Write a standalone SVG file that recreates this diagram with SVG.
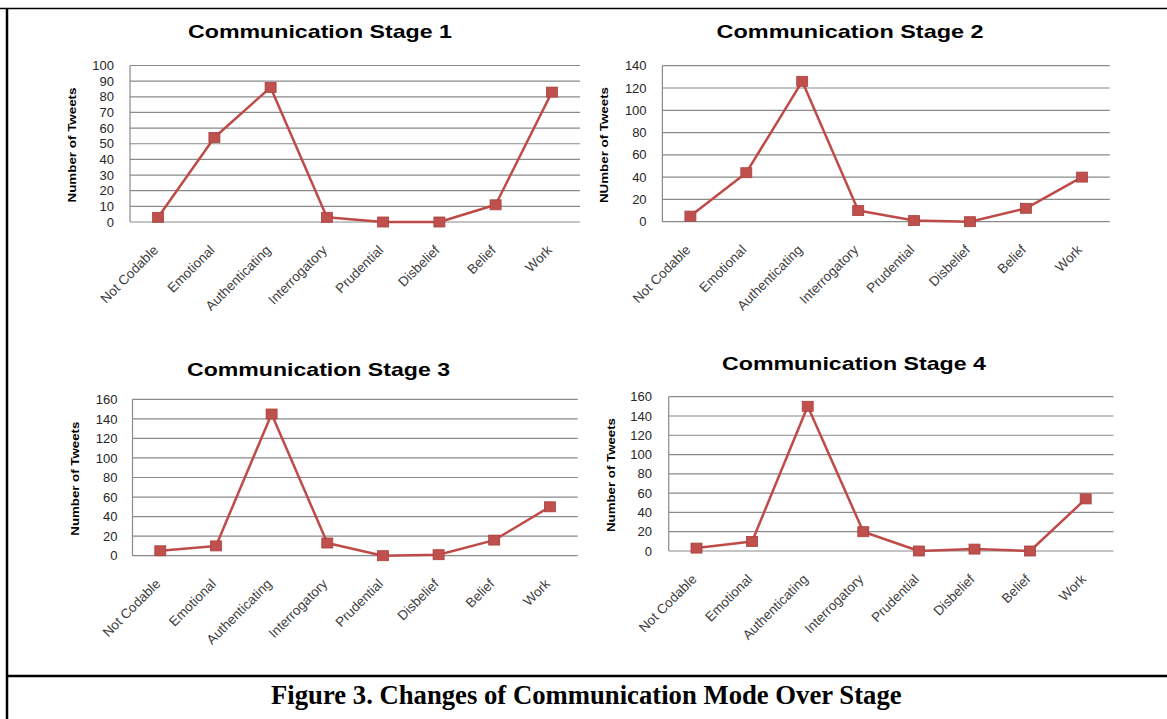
<svg xmlns="http://www.w3.org/2000/svg" width="1167" height="719" viewBox="0 0 1167 719">
<style>
.grid{stroke:#8a8a8a;stroke-width:1.2;fill:none}
.ttl{font-family:"Liberation Sans",Arial,sans-serif;font-weight:bold;font-size:18.5px;fill:#000}
.tick{font-family:"Liberation Sans",Arial,sans-serif;font-size:13px;fill:#262626;text-anchor:end}
.cat{font-family:"Liberation Sans",Arial,sans-serif;font-size:13.5px;fill:#404040;text-anchor:end}
.ytl{font-family:"Liberation Sans",Arial,sans-serif;font-weight:bold;font-size:11.5px;fill:#000;text-anchor:middle}
.ser{stroke:#be4b48;stroke-width:2.5;fill:none;stroke-linejoin:round}
.mk{fill:#c0504d;stroke:#a8403d;stroke-width:0.8}
.frame{stroke:#000;fill:none}
.cap{font-family:"Liberation Serif","Times New Roman",serif;font-weight:bold;font-size:26.7px;fill:#000}
</style>
<rect width="1167" height="719" fill="#fff"/>
<g id="frame">
<line class="frame" x1="0" y1="8.5" x2="1167" y2="8.5" stroke-width="1.6"/>
<line class="frame" x1="7" y1="8" x2="7" y2="719" stroke-width="2.5"/>
<line class="frame" x1="7" y1="676" x2="1167" y2="676" stroke-width="2.5"/>
</g>

<g id="chart1">
<text class="ttl" x="188" y="38" textLength="264" lengthAdjust="spacingAndGlyphs">Communication Stage 1</text>
<g>
<path class="grid" d="M130 222H580M130 206.35H580M130 190.7H580M130 175.05H580M130 159.4H580M130 143.75H580M130 128.1H580M130 112.45H580M130 96.8H580M130 81.15H580M130 65.5H580M130 65.5V222"/>
</g>
<g>
<text class="tick" x="114" y="226.6">0</text>
<text class="tick" x="114" y="211">10</text>
<text class="tick" x="114" y="195.3">20</text>
<text class="tick" x="114" y="179.6">30</text>
<text class="tick" x="114" y="164">40</text>
<text class="tick" x="114" y="148.3">50</text>
<text class="tick" x="114" y="132.7">60</text>
<text class="tick" x="114" y="117">70</text>
<text class="tick" x="114" y="101.4">80</text>
<text class="tick" x="114" y="85.7">90</text>
<text class="tick" x="114" y="70.1">100</text>
</g>
<text class="ytl" transform="translate(76,145) rotate(-90)" textLength="115" lengthAdjust="spacingAndGlyphs">Number of Tweets</text>
<g>
<text class="cat" transform="translate(159.1,251) rotate(-45)">Not Codable</text>
<text class="cat" transform="translate(215.4,251) rotate(-45)">Emotional</text>
<text class="cat" transform="translate(271.6,251) rotate(-45)">Authenticating</text>
<text class="cat" transform="translate(327.9,251) rotate(-45)">Interrogatory</text>
<text class="cat" transform="translate(384.1,251) rotate(-45)">Prudential</text>
<text class="cat" transform="translate(440.4,251) rotate(-45)">Disbelief</text>
<text class="cat" transform="translate(496.6,251) rotate(-45)">Belief</text>
<text class="cat" transform="translate(552.9,251) rotate(-45)">Work</text>
</g>
<g class="connectors">
<polyline class="ser" points="158.1,217.3 214.4,137.5 270.6,87.4 326.9,217.3 383.1,222 439.4,222 495.6,204.8 551.9,92.1"/>
</g>
<g>
<rect class="mk" x="152.6" y="212.3" width="11" height="10"/>
<rect class="mk" x="208.9" y="132.5" width="11" height="10"/>
<rect class="mk" x="265.1" y="82.4" width="11" height="10"/>
<rect class="mk" x="321.4" y="212.3" width="11" height="10"/>
<rect class="mk" x="377.6" y="217" width="11" height="10"/>
<rect class="mk" x="433.9" y="217" width="11" height="10"/>
<rect class="mk" x="490.1" y="199.8" width="11" height="10"/>
<rect class="mk" x="546.4" y="87.1" width="11" height="10"/>
</g>
</g>

<g id="chart2">
<text class="ttl" x="716.6" y="38" textLength="267" lengthAdjust="spacingAndGlyphs">Communication Stage 2</text>
<path class="grid" d="M662.4 221.7H1109.8M662.4 199.4H1109.8M662.4 177.1H1109.8M662.4 154.8H1109.8M662.4 132.6H1109.8M662.4 110.3H1109.8M662.4 88H1109.8M662.4 65.7H1109.8M662.4 65.7V221.7"/>
<g>
<text class="tick" x="646.6" y="226.3">0</text>
<text class="tick" x="646.6" y="204">20</text>
<text class="tick" x="646.6" y="181.7">40</text>
<text class="tick" x="646.6" y="159.4">60</text>
<text class="tick" x="646.6" y="137.2">80</text>
<text class="tick" x="646.6" y="114.9">100</text>
<text class="tick" x="646.6" y="92.6">120</text>
<text class="tick" x="646.6" y="70.3">140</text>
</g>
<text class="ytl" transform="translate(607.7,145) rotate(-90)" textLength="116" lengthAdjust="spacingAndGlyphs">NUmber of Tweets</text>
<g>
<text class="cat" transform="translate(691.4,250.7) rotate(-45)">Not Codable</text>
<text class="cat" transform="translate(747.3,250.7) rotate(-45)">Emotional</text>
<text class="cat" transform="translate(803.2,250.7) rotate(-45)">Authenticating</text>
<text class="cat" transform="translate(859.2,250.7) rotate(-45)">Interrogatory</text>
<text class="cat" transform="translate(915.1,250.7) rotate(-45)">Prudential</text>
<text class="cat" transform="translate(971,250.7) rotate(-45)">Disbelief</text>
<text class="cat" transform="translate(1026.9,250.7) rotate(-45)">Belief</text>
<text class="cat" transform="translate(1082.9,250.7) rotate(-45)">Work</text>
</g>
<g class="connectors">
<polyline class="ser" points="690.4,216.1 746.3,172.7 802.2,81.3 858.2,210.6 914.1,220.6 970,221.7 1025.9,208.3 1081.9,177.1"/>
</g>
<g>
<rect class="mk" x="684.9" y="211.1" width="11" height="10"/>
<rect class="mk" x="740.8" y="167.7" width="11" height="10"/>
<rect class="mk" x="796.7" y="76.3" width="11" height="10"/>
<rect class="mk" x="852.7" y="205.6" width="11" height="10"/>
<rect class="mk" x="908.6" y="215.6" width="11" height="10"/>
<rect class="mk" x="964.5" y="216.7" width="11" height="10"/>
<rect class="mk" x="1020.4" y="203.3" width="11" height="10"/>
<rect class="mk" x="1076.4" y="172.1" width="11" height="10"/>
</g>
</g>

<g id="chart3">
<text class="ttl" x="187" y="376" textLength="263" lengthAdjust="spacingAndGlyphs">Communication Stage 3</text>
<path class="grid" d="M132.5 555.7H577.7M132.5 536.15H577.7M132.5 516.6H577.7M132.5 497.05H577.7M132.5 477.5H577.7M132.5 457.95H577.7M132.5 438.4H577.7M132.5 418.85H577.7M132.5 399.3H577.7M132.5 399.3V555.7"/>
<g>
<text class="tick" x="117.4" y="560.3">0</text>
<text class="tick" x="117.4" y="540.8">20</text>
<text class="tick" x="117.4" y="521.2">40</text>
<text class="tick" x="117.4" y="501.7">60</text>
<text class="tick" x="117.4" y="482.1">80</text>
<text class="tick" x="117.4" y="462.6">100</text>
<text class="tick" x="117.4" y="443">120</text>
<text class="tick" x="117.4" y="423.5">140</text>
<text class="tick" x="117.4" y="403.9">160</text>
</g>
<text class="ytl" transform="translate(78.6,478.7) rotate(-90)" textLength="114" lengthAdjust="spacingAndGlyphs">Number of Tweets</text>
<g>
<text class="cat" transform="translate(161.3,584.7) rotate(-45)">Not Codable</text>
<text class="cat" transform="translate(217,584.7) rotate(-45)">Emotional</text>
<text class="cat" transform="translate(272.6,584.7) rotate(-45)">Authenticating</text>
<text class="cat" transform="translate(328.3,584.7) rotate(-45)">Interrogatory</text>
<text class="cat" transform="translate(383.9,584.7) rotate(-45)">Prudential</text>
<text class="cat" transform="translate(439.6,584.7) rotate(-45)">Disbelief</text>
<text class="cat" transform="translate(495.2,584.7) rotate(-45)">Belief</text>
<text class="cat" transform="translate(550.9,584.7) rotate(-45)">Work</text>
</g>
<g class="connectors">
<polyline class="ser" points="160.3,550.8 216,545.9 271.6,414 327.3,543 382.9,555.7 438.6,554.7 494.2,540.1 549.9,506.8"/>
</g>
<g>
<rect class="mk" x="154.8" y="545.8" width="11" height="10"/>
<rect class="mk" x="210.5" y="540.9" width="11" height="10"/>
<rect class="mk" x="266.1" y="409" width="11" height="10"/>
<rect class="mk" x="321.8" y="538" width="11" height="10"/>
<rect class="mk" x="377.4" y="550.7" width="11" height="10"/>
<rect class="mk" x="433.1" y="549.7" width="11" height="10"/>
<rect class="mk" x="488.7" y="535.1" width="11" height="10"/>
<rect class="mk" x="544.4" y="501.8" width="11" height="10"/>
</g>
</g>

<g id="chart4">
<text class="ttl" x="722" y="370" textLength="264" lengthAdjust="spacingAndGlyphs">Communication Stage 4</text>
<path class="grid" d="M668.7 551H1113.5M668.7 531.71H1113.5M668.7 512.42H1113.5M668.7 493.13H1113.5M668.7 473.85H1113.5M668.7 454.56H1113.5M668.7 435.27H1113.5M668.7 415.98H1113.5M668.7 396.7H1113.5M668.7 396.7V551"/>
<g>
<text class="tick" x="651.9" y="555.6">0</text>
<text class="tick" x="651.9" y="536.3">20</text>
<text class="tick" x="651.9" y="517">40</text>
<text class="tick" x="651.9" y="497.7">60</text>
<text class="tick" x="651.9" y="478.4">80</text>
<text class="tick" x="651.9" y="459.2">100</text>
<text class="tick" x="651.9" y="439.9">120</text>
<text class="tick" x="651.9" y="420.6">140</text>
<text class="tick" x="651.9" y="401.3">160</text>
</g>
<text class="ytl" transform="translate(615.2,475) rotate(-90)" textLength="114" lengthAdjust="spacingAndGlyphs">Number of Tweets</text>
<g>
<text class="cat" transform="translate(697.5,580) rotate(-45)">Not Codable</text>
<text class="cat" transform="translate(753.1,580) rotate(-45)">Emotional</text>
<text class="cat" transform="translate(808.7,580) rotate(-45)">Authenticating</text>
<text class="cat" transform="translate(864.3,580) rotate(-45)">Interrogatory</text>
<text class="cat" transform="translate(919.9,580) rotate(-45)">Prudential</text>
<text class="cat" transform="translate(975.5,580) rotate(-45)">Disbelief</text>
<text class="cat" transform="translate(1031.1,580) rotate(-45)">Belief</text>
<text class="cat" transform="translate(1086.7,580) rotate(-45)">Work</text>
</g>
<g class="connectors">
<polyline class="ser" points="696.5,548.1 752.1,541.4 807.7,406.3 863.3,531.7 918.9,551 974.5,549.1 1030.1,551 1085.7,498.9"/>
</g>
<g>
<rect class="mk" x="691" y="543.1" width="11" height="10"/>
<rect class="mk" x="746.6" y="536.4" width="11" height="10"/>
<rect class="mk" x="802.2" y="401.3" width="11" height="10"/>
<rect class="mk" x="857.8" y="526.7" width="11" height="10"/>
<rect class="mk" x="913.4" y="546" width="11" height="10"/>
<rect class="mk" x="969" y="544.1" width="11" height="10"/>
<rect class="mk" x="1024.6" y="546" width="11" height="10"/>
<rect class="mk" x="1080.2" y="493.9" width="11" height="10"/>
</g>
</g>

<g id="caption">
<text class="cap" x="271" y="703.7">Figure 3. Changes of Communication Mode Over Stage</text>
</g>
</svg>
